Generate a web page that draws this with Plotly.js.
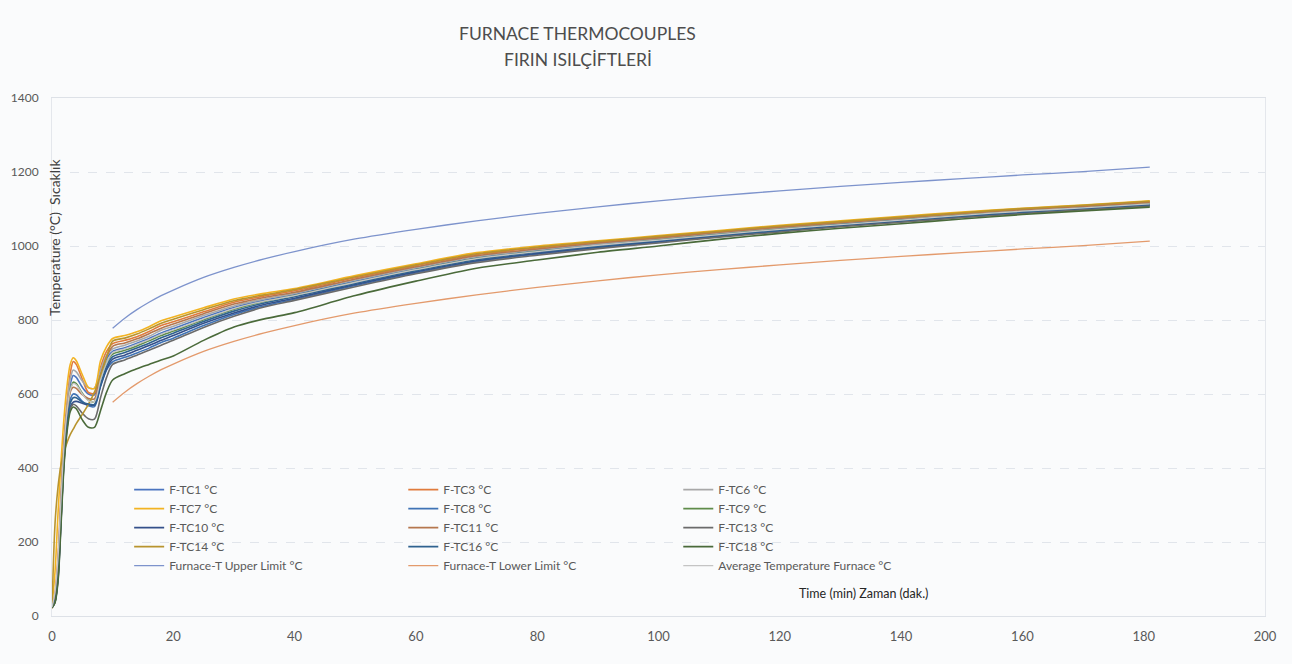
<!DOCTYPE html>
<html>
<head>
<meta charset="utf-8">
<script src="https://cdn.plot.ly/plotly-3.0.1.min.js"></script>
<style>
html,body{margin:0;padding:0;background:#fafbfc;}
#chart{width:1292px;height:664px;}
</style>
</head>
<body>
<div id="chart"></div>
<script>
// Time axis (minutes)
const timeTC = [0,0.5,1,1.5,2,2.5,3,3.5,4,5,6,7,8,9,10,12,14,16,18,20,25,30,35,40,50,60,70,80,90,100,110,120,130,140,150,160,170,181];
const timeLimit = [10,12,14,16,18,20,25,30,35,40,50,60,70,80,90,100,110,120,130,140,150,160,170,181];

// Thermocouple readings (°C)
const tc1  = [24,45,130,300,460,560,625,650,645,618,600,598,655,695,715, 725,737,750,765,777,807,834,854,869,905,939,969,988,1004,1018,1033,1047,1060,1072,1085,1095,1105,1115];
const tc3  = [25,60,160,330,480,580,655,688,680,640,604,602,672,715,736, 745,755,769,785,795,822,848,865,879,914,947,977,995,1010,1024,1038,1052,1065,1077,1089,1099,1108,1119];
const tc6  = [25,50,140,310,470,570,640,665,660,635,617,616,665,705,722, 732,743,756,772,783,812,838,857,872,908,941,971,990,1006,1020,1035,1049,1062,1074,1086,1096,1106,1116];
const tc7  = [30,120,280,420,540,625,680,698,690,652,618,615,690,728,750, 758,768,782,798,808,833,857,872,885,920,952,982,1000,1014,1028,1042,1056,1068,1080,1092,1102,1111,1122];
const tc8  = [23,40,115,280,440,530,585,600,598,580,568,566,620,665,687, 699,711,724,739,751,785,815,838,856,893,927,958,978,995,1010,1026,1040,1054,1066,1078,1089,1100,1109];
const tc9  = [24,45,125,290,450,545,610,632,628,602,583,580,640,685,708, 718,730,744,758,770,801,829,850,866,902,936,966,985,1001,1016,1031,1045,1058,1070,1083,1094,1103,1114];
const tc10 = [22,38,100,260,420,510,565,578,580,575,571,570,622,668,694, 705,718,731,745,758,791,819,842,859,896,930,960,980,997,1012,1028,1042,1055,1067,1080,1091,1101,1111];
const tc11 = [25,55,150,320,470,555,605,618,615,598,588,587,650,700,729, 738,749,763,778,789,817,843,861,875,911,944,974,992,1008,1022,1037,1051,1063,1075,1088,1098,1107,1118];
const tc13 = [22,38,105,265,425,515,560,572,568,548,533,532,590,645,680, 692,705,718,732,745,780,810,835,853,890,925,955,975,993,1008,1024,1038,1052,1064,1077,1088,1098,1108];
const tc14 = [20,250,350,410,445,470,490,505,520,545,572,605,650,700,743, 751,762,776,791,802,828,852,868,882,917,949,979,997,1012,1026,1040,1054,1066,1078,1090,1101,1110,1121];
const tc16 = [23,40,110,270,430,520,575,590,590,578,573,572,625,675,701, 712,724,737,752,764,796,824,846,863,899,933,963,983,999,1014,1029,1043,1057,1069,1081,1092,1102,1112];
const tc18 = [22,36,95,250,410,500,552,565,560,530,510,510,555,605,638, 655,668,680,692,703,745,781,803,820,866,905,940,962,983,1000,1018,1034,1048,1060,1073,1085,1095,1105];
const avgT = [24,65,160,320,465,555,610,628,625,600,582,580,638,684,712, 722,734,747,762,773,803,831,851,866,902,936,966,985,1002,1016,1031,1045,1058,1070,1083,1094,1103,1114];

// Tolerance limits (°C)
const upperLimit = [778,805,828,848,866,881,915,942,965,985,1019,1045,1068,1088,1106,1122,1136,1149,1161,1172,1182,1192,1201,1213];
const lowerLimit = [578,605,628,648,666,681,715,742,765,785,819,845,868,888,906,922,936,949,961,972,982,992,1001,1013];

const seriesNames = ['F-TC1 °C','F-TC3 °C','F-TC6 °C','F-TC7 °C','F-TC8 °C','F-TC9 °C','F-TC10 °C','F-TC11 °C','F-TC13 °C','F-TC14 °C','F-TC16 °C','F-TC18 °C','Furnace-T Upper Limit °C','Furnace-T Lower Limit °C','Average Temperature Furnace °C'];

// Title texts
const titleLine1 = 'FURNACE THERMOCOUPLES';
const titleLine2 = 'FIRIN ISILÇİFTLERİ';
const yTitle = 'Temperature (°C)  Sıcaklık';
const xTitle = 'Time (min) Zaman (dak.)';
const xTicks = [0,20,40,60,80,100,120,140,160,180,200];
const yTicks = [0,200,400,600,800,1000,1200,1400];

const FONT = 'Lato, "Open Sans", sans-serif';

function tcTrace(name, y, color, legend, width){
  return {x: timeTC, y: y, name: name, type: 'scatter', mode: 'lines',
    line: {color: color, width: width || 1.6, shape: 'spline', smoothing: 0.8},
    legend: legend, hoverinfo: 'skip'};
}
function limTrace(name, y, color, legend){
  return {x: timeLimit, y: y, name: name, type: 'scatter', mode: 'lines',
    line: {color: color, width: 1.3, shape: 'spline', smoothing: 0.8},
    legend: legend, hoverinfo: 'skip'};
}

const traces = [
  tcTrace(seriesNames[0], tc1, '#4a74bf', 'legend'),
  tcTrace(seriesNames[1], tc3, '#e07b3c', 'legend2'),
  tcTrace(seriesNames[2], tc6, '#a8a8a8', 'legend3'),
  tcTrace(seriesNames[3], tc7, '#f2b322', 'legend'),
  tcTrace(seriesNames[4], tc8, '#3f73b5', 'legend2'),
  tcTrace(seriesNames[5], tc9, '#5f8c4a', 'legend3'),
  tcTrace(seriesNames[6], tc10, '#34508a', 'legend'),
  tcTrace(seriesNames[7], tc11, '#b5774e', 'legend2'),
  tcTrace(seriesNames[8], tc13, '#6b6b6b', 'legend3'),
  tcTrace(seriesNames[9], tc14, '#b8942e', 'legend'),
  tcTrace(seriesNames[10], tc16, '#2f628f', 'legend2'),
  tcTrace(seriesNames[11], tc18, '#4a6a3a', 'legend3'),
  limTrace(seriesNames[12], upperLimit, '#7d93cc', 'legend'),
  limTrace(seriesNames[13], lowerLimit, '#e39a6c', 'legend2'),
  tcTrace(seriesNames[14], avgT, '#c4c4c4', 'legend3', 1.3)
];

const legendCommon = {
  bgcolor: 'rgba(0,0,0,0)', borderwidth: 0, orientation: 'v',
  font: {family: FONT, size: 12, color: '#595959'},
  itemwidth: 30, tracegroupgap: 0, xanchor: 'left', yanchor: 'top', yref: 'paper', xref: 'paper'
};

const layout = {
  width: 1292, height: 664,
  paper_bgcolor: '#fafbfc', plot_bgcolor: '#fafbfc',
  margin: {l: 52, r: 27, t: 98, b: 48},
  font: {family: FONT, color: '#595959'},
  showlegend: true,
  legend: Object.assign({}, legendCommon, {x: 0.0636, y: 0.272}),
  legend2: Object.assign({}, legendCommon, {x: 0.2896, y: 0.272}),
  legend3: Object.assign({}, legendCommon, {x: 0.5163, y: 0.272}),
  xaxis: {
    range: [0, 200], tickvals: xTicks, ticktext: xTicks.map(String),
    showgrid: false, zeroline: false,
    showline: true, linecolor: '#dde1e7', linewidth: 1, mirror: true,
    ticks: '', ticklabelstandoff: 8,
    tickfont: {family: FONT, size: 13, color: '#595959'}
  },
  yaxis: {
    range: [0, 1400], tickvals: yTicks, ticktext: yTicks.map(String),
    showgrid: true, gridcolor: '#e1e5eb', griddash: 'dash', gridwidth: 1,
    zeroline: false, showline: true, linecolor: '#e4e7ec', mirror: true,
    ticks: '', ticklabelstandoff: 10,
    tickfont: {family: FONT, size: 12, color: '#595959'}
  },
  annotations: [
    {text: titleLine1, xref: 'paper', yref: 'paper', x: 0.4335, y: 1.1236, xanchor: 'center', yanchor: 'middle', showarrow: false,
     font: {family: FONT, size: 17.5, color: '#4d4d4d'}},
    {text: titleLine2, xref: 'paper', yref: 'paper', x: 0.4335, y: 1.0734, xanchor: 'center', yanchor: 'middle', showarrow: false,
     font: {family: FONT, size: 17.5, color: '#4d4d4d'}},
    {text: yTitle, xref: 'paper', yref: 'paper', x: 0.0025, y: 0.730, xanchor: 'center', yanchor: 'middle', textangle: -90, showarrow: false,
     font: {family: FONT, size: 14, color: '#404040'}},
    {text: xTitle, xref: 'paper', yref: 'paper', x: 0.669, y: 0.044, xanchor: 'center', yanchor: 'middle', showarrow: false,
     font: {family: FONT, size: 12.5, color: '#262626'}}
  ]
};

Plotly.newPlot('chart', traces, layout, {displayModeBar: false, staticPlot: true});
</script>
</body>
</html>
